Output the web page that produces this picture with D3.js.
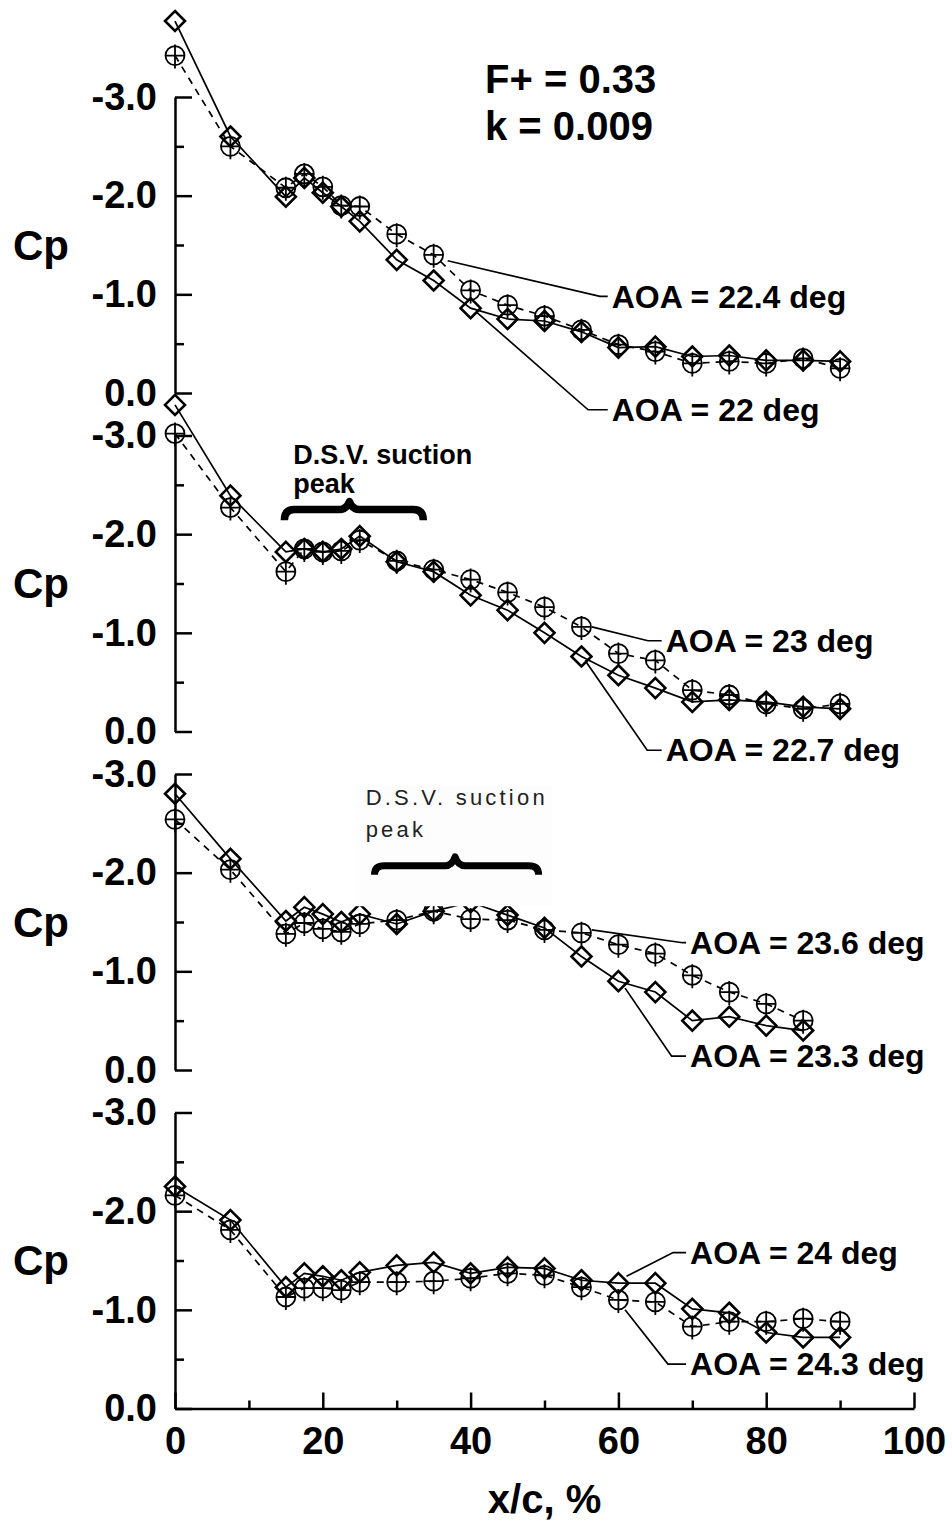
<!DOCTYPE html>
<html>
<head>
<meta charset="utf-8">
<script src="https://cdn.jsdelivr.net/npm/d3@7"></script>
<style>
  body { margin: 0; background: #fff; }
  svg { display: block; }
  text { font-family: "Liberation Sans", Arial, sans-serif; font-weight: bold; fill: #000; }
</style>
</head>
<body>
<div id="chart"></div>
<script>
// chordwise tap positions, x/c in %
const xc = [0, 7.5, 15, 17.5, 20, 22.5, 25, 30, 35, 40, 45, 50, 55, 60, 65, 70, 75, 80, 85, 90];

// Cp per angle of attack
const cpAoa22_0 = [-3.77, -2.60, -1.99, -2.18, -2.03, -1.89, -1.74, -1.35, -1.14, -0.86, -0.75, -0.73, -0.62, -0.46, -0.47, -0.37, -0.38, -0.33, -0.33, -0.32];
const cpAoa22_4 = [-3.42, -2.50, -2.08, -2.22, -2.09, -1.90, -1.89, -1.61, -1.40, -1.04, -0.89, -0.78, -0.64, -0.49, -0.42, -0.30, -0.32, -0.30, -0.35, -0.25];
const cpAoa22_7 = [-3.31, -2.39, -1.82, -1.85, -1.82, -1.85, -1.98, -1.72, -1.62, -1.38, -1.23, -1.00, -0.76, -0.57, -0.44, -0.30, -0.32, -0.30, -0.25, -0.23];
const cpAoa23_0 = [-3.02, -2.27, -1.62, -1.85, -1.82, -1.83, -1.94, -1.73, -1.64, -1.54, -1.41, -1.26, -1.06, -0.79, -0.72, -0.42, -0.37, -0.28, -0.23, -0.28];
const cpAoa23_3 = [-2.80, -2.14, -1.51, -1.65, -1.58, -1.50, -1.58, -1.48, -1.61, -1.70, -1.57, -1.44, -1.15, -0.90, -0.79, -0.50, -0.54, -0.45, -0.40];
const cpAoa23_6 = [-2.54, -2.03, -1.38, -1.49, -1.43, -1.40, -1.48, -1.52, -1.61, -1.53, -1.52, -1.42, -1.39, -1.27, -1.18, -0.96, -0.79, -0.67, -0.50];
const cpAoa24_0 = [-2.25, -1.91, -1.23, -1.37, -1.34, -1.30, -1.38, -1.45, -1.48, -1.37, -1.43, -1.42, -1.30, -1.27, -1.27, -1.01, -0.97, -0.77, -0.72, -0.72];
const cpAoa24_3 = [-2.16, -1.81, -1.13, -1.22, -1.22, -1.20, -1.28, -1.28, -1.29, -1.32, -1.37, -1.35, -1.23, -1.10, -1.08, -0.83, -0.88, -0.88, -0.91, -0.88];

// axis ticks and labels
const yMajor = [-3, -2, -1, 0];
const yMinor = [-2.5, -1.5, -0.5];
const yTickLabels = ["-3.0", "-2.0", "-1.0", "0.0"];
const xMajor = [0, 20, 40, 60, 80, 100];
const xMinor = [10, 30, 50, 70, 90];

const width = 952, height = 1521;
const panelTop = 97, panelH = 296, panelStep = 338.5;

const svg = d3.select("#chart").append("svg")
    .attr("width", width)
    .attr("height", height);

const x = d3.scaleLinear().domain([0, 100]).range([175, 914]);

// one panel per pair of runs; leader lines given in (x/c, Cp) of that panel
const panels = [
    {
        solid: cpAoa22_0, dashed: cpAoa22_4,
        labels: [
            { text: "AOA = 22.4 deg", from: [36.9, -1.34], elbow: [57.5, -0.98], at: 59.1 },
            { text: "AOA = 22 deg", from: [40.8, -0.82], elbow: [55.9, 0.17], at: 59.1 }
        ]
    },
    {
        solid: cpAoa22_7, dashed: cpAoa23_0,
        labels: [
            { text: "AOA = 23 deg", from: [56.4, -1.06], elbow: [64.0, -0.92], at: 66.4 },
            { text: "AOA = 22.7 deg", from: [55.5, -0.72], elbow: [63.9, 0.19], at: 66.4 }
        ]
    },
    {
        solid: cpAoa23_3, dashed: cpAoa23_6,
        labels: [
            { text: "AOA = 23.6 deg", from: [56.4, -1.42], elbow: [68.7, -1.29], at: 69.7 },
            { text: "AOA = 23.3 deg", from: [60.9, -0.83], elbow: [67.2, -0.14], at: 69.7 }
        ]
    },
    {
        solid: cpAoa24_0, dashed: cpAoa24_3,
        labels: [
            { text: "AOA = 24 deg", from: [61.1, -1.34], elbow: [67.4, -1.58], at: 69.7 },
            { text: "AOA = 24.3 deg", from: [60.9, -1.00], elbow: [66.7, -0.45], at: 69.7 }
        ]
    }
];

const diamond = "M0,-10L10,0L0,10L-10,0Z";

panels.forEach((p, i) => {
    const top = panelTop + i * panelStep;
    const y = d3.scaleLinear().domain([0, -3]).range([top + panelH, top]);
    p.y = y;
    const g = svg.append("g");

    // y axis, ticks pointing inward
    const yAxis = g.append("g")
        .attr("transform", `translate(${x(0)},0)`)
        .call(d3.axisLeft(y).tickValues(yMajor)
            .tickFormat((d, k) => yTickLabels[k])
            .tickSizeInner(-17).tickSizeOuter(0).tickPadding(18));
    yAxis.select(".domain").attr("stroke-width", 2.5);
    yAxis.selectAll(".tick line").attr("stroke-width", 2.5);
    yAxis.selectAll("text")
        .attr("font-size", 38)
        .attr("font-family", "Liberation Sans, Arial, sans-serif")
        .attr("font-weight", "bold");

    const yMin = g.append("g")
        .attr("transform", `translate(${x(0)},0)`)
        .call(d3.axisLeft(y).tickValues(yMinor).tickFormat("")
            .tickSizeInner(-9).tickSizeOuter(0));
    yMin.select(".domain").remove();
    yMin.selectAll(".tick line").attr("stroke-width", 2.5);

    g.append("text")
        .attr("x", 13)
        .attr("y", y(-1.5))
        .attr("dy", "0.35em")
        .attr("font-size", 42)
        .text("Cp");

    const pts = arr => arr.map((v, k) => [xc[k], v]);
    const line = d3.line().x(d => x(d[0])).y(d => y(d[1]));

    g.append("path")
        .attr("d", line(pts(p.dashed)))
        .attr("fill", "none")
        .attr("stroke", "#000")
        .attr("stroke-width", 1.7)
        .attr("stroke-dasharray", "7,6");

    g.append("path")
        .attr("d", line(pts(p.solid)))
        .attr("fill", "none")
        .attr("stroke", "#000")
        .attr("stroke-width", 1.7);

    // circle-plus markers
    const cm = g.selectAll("g.cm")
        .data(pts(p.dashed))
        .join("g")
        .attr("class", "cm")
        .attr("transform", d => `translate(${x(d[0])},${y(d[1])})`)
        .attr("stroke", "#000")
        .attr("stroke-width", 1.8)
        .attr("fill", "none");
    cm.append("circle").attr("r", 9.5);
    cm.append("path").attr("d", "M-9.5,0H9.5M0,-11V13");

    // diamond markers
    g.selectAll("path.dm")
        .data(pts(p.solid))
        .join("path")
        .attr("class", "dm")
        .attr("d", diamond)
        .attr("transform", d => `translate(${x(d[0])},${y(d[1])})`)
        .attr("fill", "none")
        .attr("stroke", "#000")
        .attr("stroke-width", 2.6);

    // labels with leader lines
    p.labels.forEach(l => {
        const ex = x(l.elbow[0]), ey = y(l.elbow[1]);
        g.append("path")
            .attr("d", `M${x(l.from[0])},${y(l.from[1])}L${ex},${ey}H${x(l.at) - 4}`)
            .attr("fill", "none")
            .attr("stroke", "#000")
            .attr("stroke-width", 1.7);
        g.append("text")
            .attr("x", x(l.at))
            .attr("y", ey)
            .attr("dy", "0.35em")
            .attr("font-size", 32)
            .text(l.text);
    });
});

// curly brace over the dynamic-stall-vortex suction peak
function brace(y, x0, x1, xm, cpBar, cpPeak, cpEnd, sw) {
    const X0 = x(x0), X1 = x(x1), XM = x(xm);
    const B = y(cpBar), P = y(cpPeak), E = y(cpEnd);
    return svg.append("path")
        .attr("d", `M${X0},${E}Q${X0},${B} ${X0 + 10},${B}L${XM - 10},${B}` +
            `Q${XM - 3},${B} ${XM},${P}Q${XM + 3},${B} ${XM + 10},${B}` +
            `L${X1 - 10},${B}Q${X1},${B} ${X1},${E}`)
        .attr("fill", "none")
        .attr("stroke", "#000")
        .attr("stroke-width", sw)
        .attr("stroke-linejoin", "round");
}

// panel 2 annotation
const y2 = panels[1].y;
svg.append("text").attr("x", x(16.0)).attr("y", y2(-2.71))
    .attr("font-size", 27).text("D.S.V. suction");
svg.append("text").attr("x", x(16.0)).attr("y", y2(-2.42))
    .attr("font-size", 27).text("peak");
brace(y2, 14.8, 33.6, 23.6, -2.25, -2.33, -2.14, 7.5);

// panel 3 annotation (pasted-in picture, covers part of the curves)
const y3 = panels[2].y;
svg.append("rect")
    .attr("x", x(24.5)).attr("y", y3(-2.89))
    .attr("width", x(51) - x(24.5)).attr("height", y3(-1.66) - y3(-2.89))
    .attr("fill", "#fdfdfd");
svg.append("text").attr("x", x(25.8)).attr("y", y3(-2.69))
    .attr("font-size", 22)
    .attr("font-family", "DejaVu Sans, sans-serif")
    .attr("letter-spacing", 3.2).style("font-weight", "normal").style("fill", "#222")
    .text("D.S.V. suction");
svg.append("text").attr("x", x(25.8)).attr("y", y3(-2.36))
    .attr("font-size", 22)
    .attr("font-family", "DejaVu Sans, sans-serif")
    .attr("letter-spacing", 3.2).style("font-weight", "normal").style("fill", "#222")
    .text("peak");
brace(y3, 27.0, 49.2, 37.9, -2.07, -2.16, -1.98, 7);

// x axis only under the bottom panel
const yBottom = panelTop + 3 * panelStep + panelH;
const xAxis = svg.append("g")
    .attr("transform", `translate(0,${yBottom})`)
    .call(d3.axisBottom(x).tickValues(xMajor)
        .tickSizeInner(-16).tickSizeOuter(0).tickPadding(19));
xAxis.select(".domain").attr("stroke-width", 2.5);
xAxis.selectAll(".tick line").attr("stroke-width", 2.5);
xAxis.selectAll("text")
    .attr("font-size", 38)
    .attr("font-family", "Liberation Sans, Arial, sans-serif")
    .attr("font-weight", "bold");

const xMin = svg.append("g")
    .attr("transform", `translate(0,${yBottom})`)
    .call(d3.axisBottom(x).tickValues(xMinor).tickFormat("")
        .tickSizeInner(-8).tickSizeOuter(0));
xMin.select(".domain").remove();
xMin.selectAll(".tick line").attr("stroke-width", 2.5);

svg.append("text")
    .attr("x", x(50))
    .attr("y", 1513)
    .attr("text-anchor", "middle")
    .attr("font-size", 40)
    .text("x/c, %");

svg.append("text").attr("x", 485).attr("y", 93).attr("font-size", 40).text("F+ = 0.33");
svg.append("text").attr("x", 485).attr("y", 140).attr("font-size", 40).text("k = 0.009");
</script>
</body>
</html>
